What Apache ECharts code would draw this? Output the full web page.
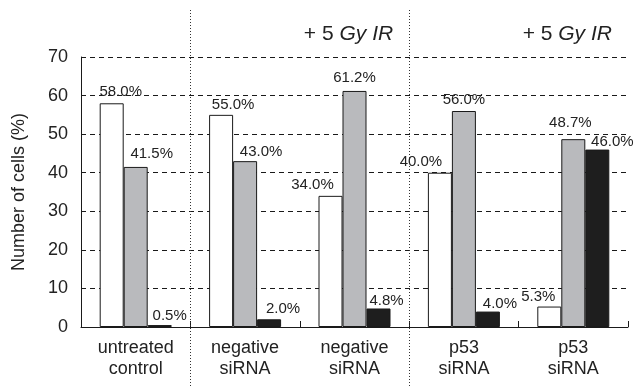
<!DOCTYPE html>
<html>
<head>
<meta charset="utf-8">
<script src="https://cdn.jsdelivr.net/npm/echarts@6/dist/echarts.min.js"></script>
<style>
  html, body { margin: 0; padding: 0; background: #fff; }
  #chart { width: 635px; height: 388px; }
</style>
</head>
<body>
<div id="chart"></div>
<script>
// groups along the x axis
var categories = ['untreated\ncontrol', 'negative\nsiRNA', 'negative\nsiRNA', 'p53\nsiRNA', 'p53\nsiRNA'];
// which groups got irradiated (title above them)
var irGroups = [2, 4];
// the three bar series (percent of cells)
var whiteVals = [58.0, 55.0, 34.0, 40.0, 5.3];
var grayVals  = [41.5, 43.0, 61.2, 56.0, 48.7];
var blackVals = [0.5, 2.0, 4.8, 4.0, 46.0];
var yTicks = [0, 10, 20, 30, 40, 50, 60, 70];

// label nudges [dx, dy], the source labels are not centred on the bars
var whiteShift = [[9, -2], [12, 0], [-18, -1], [-19, -1], [-11, 0]];
var grayShift  = [[16, -4], [16, 0], [0, -4], [0, -2], [-3, -7]];
var blackShift = [[10, 0], [14, -1], [8, 2], [12, 2], [15, 2]];

var font = 'Liberation Sans, Arial, sans-serif';

function makeData(vals, shift) {
	var out = [];
	for (var i = 0; i < vals.length; i++) {
		out.push({ value: vals[i], label: { offset: shift[i] } });
	}
	return out;
}

function barSeries(name, vals, shift, color) {
	return {
		name: name,
		type: 'bar',
		barWidth: 24,
		barGap: '0%',
		data: makeData(vals, shift),
		itemStyle: { color: color, borderColor: '#1a1a1a', borderWidth: 1 },
		label: {
			show: true,
			position: 'top',
			distance: 2,
			fontFamily: font,
			fontSize: 15,
			color: '#222',
			formatter: function (p) { return p.value.toFixed(1) + '%'; }
		}
	};
}

var chart = echarts.init(document.getElementById('chart'));
var option = {
	animation: false,
	grid: { left: 81, right: 7, top: 57, bottom: 61 },
	xAxis: {
		type: 'category',
		data: categories,
		axisLine: { lineStyle: { color: '#1a1a1a', width: 1 } },
		axisTick: { show: true, inside: true, length: 6, lineStyle: { color: '#1a1a1a' } },
		axisLabel: { fontFamily: font, fontSize: 18, color: '#222', lineHeight: 21, margin: 11 }
	},
	yAxis: {
		type: 'value',
		min: yTicks[0],
		max: yTicks[yTicks.length - 1],
		interval: 10,
		name: 'Number of cells (%)',
		nameLocation: 'middle',
		nameGap: 53,
		nameTextStyle: { fontFamily: font, fontSize: 18, color: '#222' },
		axisLine: { show: true, lineStyle: { color: '#1a1a1a', width: 1 } },
		axisTick: { show: false },
		axisLabel: { fontFamily: font, fontSize: 18, color: '#222', margin: 13 },
		splitLine: { show: true, lineStyle: { color: '#1a1a1a', type: [5, 4], width: 1 } }
	},
	series: [
		barSeries('white', whiteVals, whiteShift, '#ffffff'),
		barSeries('gray', grayVals, grayShift, '#b9babd'),
		barSeries('black', blackVals, blackShift, '#1e1e1e')
	]
};
chart.setOption(option);

// dotted separators and the "+ 5 Gy IR" headers, placed from the axis
var g = [];
var sepAfter = [0, 2];
for (var s = 0; s < sepAfter.length; s++) {
	var a = chart.convertToPixel({ xAxisIndex: 0 }, sepAfter[s]);
	var b = chart.convertToPixel({ xAxisIndex: 0 }, sepAfter[s] + 1);
	var x = Math.round((a + b) / 2) + 0.5;
	g.push({
		type: 'line',
		shape: { x1: x, y1: 10, x2: x, y2: 388 },
		style: { stroke: '#333', lineWidth: 1, lineDash: [1, 2] },
		z: 10
	});
}
for (var k = 0; k < irGroups.length; k++) {
	var cx = chart.convertToPixel({ xAxisIndex: 0 }, irGroups[k]);
	g.push({
		type: 'text',
		x: cx - 6,
		y: 34,
		style: {
			text: '{n|+ 5 }{i|Gy IR}',
			align: 'center',
			verticalAlign: 'middle',
			rich: {
				n: { fontFamily: font, fontSize: 21, fill: '#222' },
				i: { fontFamily: font, fontSize: 21, fontStyle: 'italic', fill: '#222' }
			}
		}
	});
}
chart.setOption({ graphic: g });
</script>
</body>
</html>
